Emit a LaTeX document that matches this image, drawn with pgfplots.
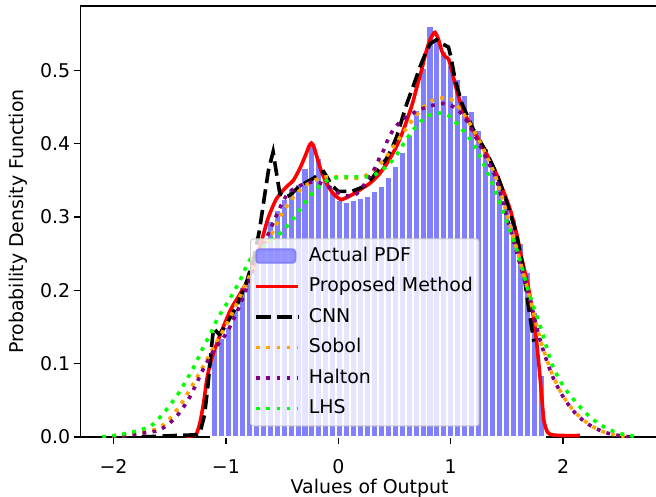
\documentclass[border=0pt]{standalone}
\usepackage{fontspec}
\setmainfont{DejaVu Sans}
\usepackage{pgfplots}
\pgfplotsset{compat=1.18}
\definecolor{barblue}{RGB}{128,128,255}
\definecolor{mplorange}{RGB}{255,165,0}
\definecolor{mplpurple}{RGB}{128,0,128}
\definecolor{mplgreen}{RGB}{0,255,0}
\definecolor{legframe}{RGB}{204,204,204}
\newcommand{\fs}{\fontsize{19}{23}\selectfont}
\begin{document}
\begin{tikzpicture}
\begin{axis}[
  scale only axis, width=577.9bp, height=431bp,
  xmin=-2.292, xmax=2.85, ymin=0, ymax=0.588,
  axis line style={line width=1.3bp, black},
  tick align=outside, major tick length=7bp,
  tick style={line width=1.3bp, black},
  xtick pos=bottom, ytick pos=left,
  xtick={-2,-1,0,1,2}, xticklabels={−2,−1,0,1,2},
  ytick={0,0.1,0.2,0.3,0.4,0.5}, yticklabels={0.0,0.1,0.2,0.3,0.4,0.5},
  ticklabel style={font=\fs},
  xticklabel style={yshift=-12bp},
  every axis x label/.style={at={(axis description cs:0.5,-0.118)}, anchor=center, font=\fs},
  every axis y label/.style={at={(axis description cs:-0.1085,0.5)}, rotate=90, anchor=center, font=\fs},
  xlabel={Values of Output}, ylabel={Probability Density Function},
  legend cell align=left,
  legend style={at={(rel axis cs:0.293,0.461)}, anchor=north west,
    draw=legframe, line width=1bp, fill=white, fill opacity=0.8, draw opacity=1, text opacity=1,
    rounded corners=3bp, font=\fs, inner xsep=4bp, inner ysep=2bp, row sep=0bp,
    /tikz/every odd column/.append style={column sep=7bp},
    nodes={text height=14.5bp, text depth=4.5bp, inner ysep=5.75bp}},
]
\addplot[ybar interval, fill=barblue, draw=white, line width=1.9bp,
  legend image code/.code={\fill[barblue] (0bp,-6.7bp) rectangle (39bp,6.7bp);}]
table[row sep=\\] {
x y\\
-1.1307 0.120\\ -1.0689 0.135\\ -1.0071 0.150\\ -0.9453 0.175\\ -0.8835 0.205\\
-0.8217 0.225\\ -0.7599 0.245\\ -0.6981 0.270\\ -0.6363 0.295\\ -0.5745 0.310\\
-0.5127 0.325\\ -0.4509 0.338\\ -0.3891 0.345\\ -0.3273 0.367\\ -0.2655 0.400\\
-0.2037 0.381\\ -0.1419 0.352\\ -0.0801 0.335\\ -0.0183 0.323\\ 0.0435 0.321\\
0.1053 0.323\\ 0.1671 0.326\\ 0.2289 0.329\\ 0.2907 0.336\\ 0.3525 0.343\\
0.4143 0.355\\ 0.4761 0.369\\ 0.5379 0.389\\ 0.5997 0.412\\ 0.6615 0.446\\
0.7233 0.503\\ 0.7851 0.560\\ 0.8469 0.540\\ 0.9087 0.526\\ 0.9705 0.508\\
1.0323 0.489\\ 1.0941 0.467\\ 1.1559 0.444\\ 1.2177 0.419\\ 1.2795 0.394\\
1.3413 0.370\\ 1.4031 0.346\\ 1.4649 0.322\\ 1.5267 0.297\\ 1.5885 0.265\\
1.6503 0.225\\ 1.7121 0.170\\ 1.7739 0.085\\ 1.8357 0.085\\
};
\addlegendentry{Actual PDF}
\pgfplotsset{legend image code/.code={\draw[#1] (0bp,0bp) -- (41.7bp,0bp);}}
\addplot[red, line width=3.6bp, smooth, tension=0.4] coordinates {
(-1.35,0.001) (-1.29,0.002) (-1.26,0.005) (-1.23,0.02) (-1.20,0.045) (-1.17,0.078)
(-1.14,0.100) (-1.11,0.115) (-1.05,0.140) (-0.96,0.173) (-0.875,0.195) (-0.80,0.215)
(-0.75,0.235) (-0.70,0.257) (-0.667,0.276) (-0.63,0.296) (-0.59,0.312) (-0.55,0.325)
(-0.50,0.335) (-0.45,0.343) (-0.40,0.350) (-0.34,0.367) (-0.29,0.385) (-0.26,0.397)
(-0.24,0.401) (-0.22,0.397) (-0.19,0.382) (-0.15,0.362) (-0.10,0.345) (-0.05,0.333)
(0.00,0.326) (0.03,0.324) (0.08,0.327) (0.15,0.333) (0.22,0.340) (0.28,0.346)
(0.35,0.356) (0.40,0.366) (0.46,0.380) (0.52,0.397) (0.57,0.415) (0.61,0.432)
(0.66,0.455) (0.70,0.478) (0.74,0.500) (0.77,0.519) (0.80,0.535) (0.83,0.546)
(0.86,0.552) (0.89,0.543) (0.92,0.527) (0.95,0.519) (0.98,0.516) (1.01,0.500)
(1.05,0.475) (1.11,0.446) (1.20,0.419) (1.32,0.386) (1.41,0.358) (1.47,0.335)
(1.53,0.310) (1.59,0.275) (1.63,0.245) (1.69,0.205) (1.75,0.150) (1.79,0.090)
(1.81,0.055) (1.83,0.022) (1.86,0.007) (1.90,0.003) (2.00,0.002) (2.15,0.002)
};
\addlegendentry{Proposed Method}
\addplot[black, line width=3.6bp, dash pattern=on 14.5bp off 6.3bp] coordinates {
(-1.75,0.000) (-1.45,0.002) (-1.26,0.003) (-1.23,0.006) (-1.19,0.030) (-1.16,0.070)
(-1.13,0.120) (-1.11,0.148) (-1.09,0.145) (-1.06,0.140) (-1.02,0.148) (-0.98,0.158)
(-0.90,0.180) (-0.815,0.212) (-0.75,0.245) (-0.70,0.283) (-0.66,0.325) (-0.62,0.365)
(-0.58,0.389) (-0.55,0.360) (-0.52,0.332) (-0.47,0.327) (-0.43,0.330) (-0.36,0.340)
(-0.28,0.348) (-0.22,0.353) (-0.16,0.360) (-0.13,0.362) (-0.09,0.352) (-0.05,0.342)
(0.00,0.335) (0.12,0.335) (0.20,0.340) (0.25,0.344) (0.31,0.355) (0.38,0.370)
(0.43,0.380) (0.48,0.395) (0.52,0.410) (0.57,0.435) (0.61,0.455) (0.67,0.480)
(0.727,0.505) (0.78,0.525) (0.82,0.537) (0.875,0.542) (0.93,0.536) (0.98,0.532)
(1.00,0.520) (1.04,0.487) (1.10,0.455) (1.20,0.420) (1.32,0.388) (1.42,0.355)
(1.50,0.320) (1.58,0.280) (1.64,0.235) (1.69,0.180) (1.74,0.130)
};
\addlegendentry{CNN}
\addplot[mplorange, line width=3.6bp, dash pattern=on 3.8bp off 6.3bp, smooth] coordinates {
(-2.10,0.000) (-1.90,0.002) (-1.75,0.006) (-1.60,0.012) (-1.50,0.025) (-1.40,0.045)
(-1.30,0.070) (-1.20,0.097) (-1.10,0.125) (-1.00,0.152) (-0.90,0.183) (-0.80,0.216)
(-0.70,0.248) (-0.60,0.275) (-0.50,0.305) (-0.40,0.327) (-0.30,0.342) (-0.20,0.351)
(-0.10,0.355) (0.00,0.355) (0.10,0.353) (0.20,0.354) (0.30,0.362) (0.40,0.377)
(0.50,0.398) (0.60,0.420) (0.70,0.440) (0.80,0.456) (0.90,0.462) (1.00,0.461)
(1.10,0.444) (1.20,0.420) (1.30,0.390) (1.40,0.355) (1.50,0.305) (1.60,0.250)
(1.70,0.192) (1.80,0.132) (1.90,0.087) (2.00,0.056) (2.10,0.035) (2.20,0.021)
(2.30,0.011) (2.40,0.005) (2.50,0.002) (2.60,0.000)
};
\addlegendentry{Sobol}
\addplot[mplpurple, line width=3.6bp, dash pattern=on 3.8bp off 6.3bp, smooth] coordinates {
(-2.10,0.000) (-1.90,0.002) (-1.75,0.005) (-1.585,0.010) (-1.44,0.028) (-1.32,0.055)
(-1.20,0.093) (-1.10,0.120) (-0.99,0.143) (-0.875,0.180) (-0.75,0.230) (-0.637,0.272)
(-0.548,0.303) (-0.49,0.322) (-0.43,0.335) (-0.31,0.345) (-0.207,0.348) (-0.118,0.344)
(-0.044,0.338) (0.00,0.333) (0.08,0.329) (0.148,0.330) (0.21,0.340) (0.28,0.356)
(0.33,0.368) (0.37,0.382) (0.40,0.390) (0.46,0.412) (0.55,0.430) (0.667,0.442)
(0.786,0.450) (0.934,0.455) (1.05,0.448) (1.14,0.432) (1.26,0.398) (1.35,0.370)
(1.41,0.350) (1.50,0.300) (1.60,0.245) (1.70,0.190) (1.80,0.130) (1.90,0.085)
(2.00,0.055) (2.10,0.034) (2.20,0.020) (2.30,0.011) (2.40,0.005) (2.50,0.002) (2.60,0.000)
};
\addlegendentry{Halton}
\addplot[mplgreen, line width=3.6bp, dash pattern=on 3.8bp off 6.3bp, smooth] coordinates {
(-2.10,0.000) (-1.95,0.003) (-1.80,0.008) (-1.67,0.015) (-1.58,0.028) (-1.50,0.043)
(-1.42,0.060) (-1.35,0.078) (-1.27,0.100) (-1.20,0.123) (-1.14,0.140) (-1.08,0.160)
(-1.00,0.180) (-0.93,0.198) (-0.87,0.215) (-0.79,0.241) (-0.70,0.255) (-0.60,0.268)
(-0.50,0.280) (-0.40,0.298) (-0.356,0.307) (-0.267,0.326) (-0.178,0.341) (-0.089,0.351)
(0.00,0.354) (0.10,0.355) (0.20,0.355) (0.30,0.356) (0.386,0.364) (0.45,0.372)
(0.52,0.385) (0.60,0.405) (0.667,0.419) (0.73,0.430) (0.786,0.437) (0.85,0.441)
(0.905,0.442) (0.96,0.440) (1.00,0.436) (1.10,0.420) (1.20,0.400) (1.30,0.370)
(1.40,0.335) (1.50,0.293) (1.60,0.250) (1.70,0.195) (1.80,0.150) (1.90,0.100)
(2.00,0.070) (2.10,0.050) (2.20,0.033) (2.30,0.020) (2.40,0.011) (2.50,0.005)
(2.60,0.002) (2.65,0.000)
};
\addlegendentry{LHS}
\end{axis}
\pgfresetboundingbox
\path (-80.7bp,-60bp) rectangle (575.3bp,437bp);
\end{tikzpicture}
\end{document}
